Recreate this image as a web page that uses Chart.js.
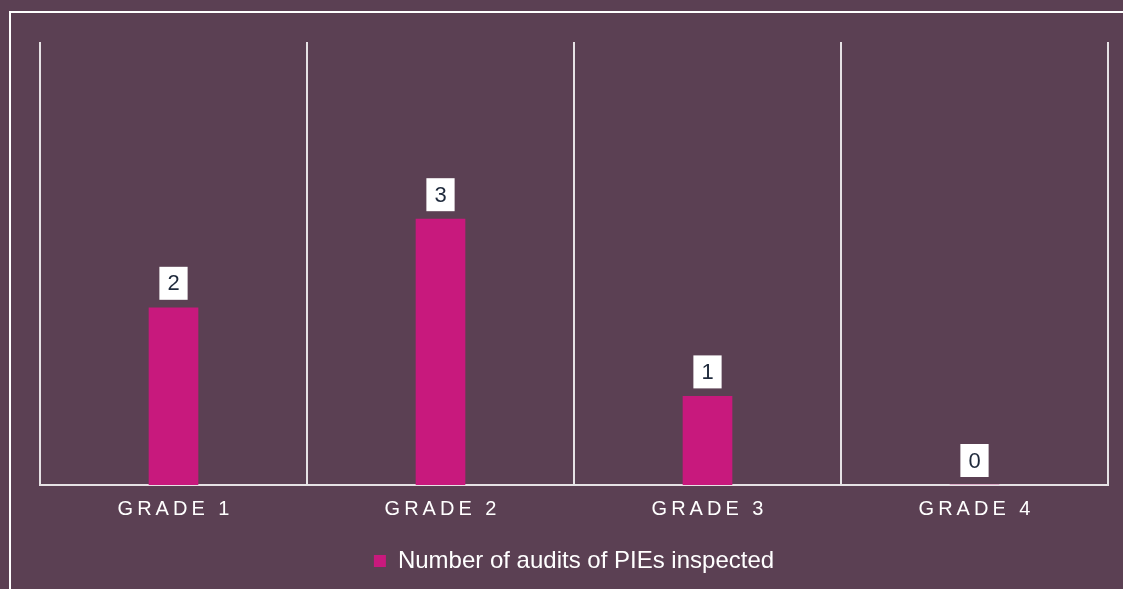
<!DOCTYPE html>
<html>
<head>
<meta charset="utf-8">
<script src="https://cdn.jsdelivr.net/npm/chart.js@4/dist/chart.umd.min.js"></script>
<style>
  html, body { margin: 0; padding: 0; background: #5b4053; overflow: hidden; }
  #wrap { position: relative; width: 1123px; height: 589px; }
  #frame {
    position: absolute; left: 9px; top: 11px; width: 1130px; height: 600px;
    border-top: 2px solid #ffffff; border-left: 2px solid #ffffff;
  }
  canvas { position: absolute; left: 0; top: 0; }
</style>
</head>
<body>
<div id="wrap">
  <div id="frame"></div>
  <canvas id="chart" width="1123" height="589"></canvas>
</div>
<script>
// Data
const grades = ['GRADE 1', 'GRADE 2', 'GRADE 3', 'GRADE 4'];
const auditCounts = [2, 3, 1, 0];
const seriesName = 'Number of audits of PIEs inspected';

const FONT = 'Arial, "Liberation Sans", sans-serif';

// spread letters out a bit like the original axis labels
function spaced(label) {
  return label.split('').join('\u2009');
}

// white boxes with the value above each bar
const valueBoxes = {
  id: 'valueBoxes',
  afterDatasetsDraw(chart) {
    const ctx = chart.ctx;
    const meta = chart.getDatasetMeta(0);
    ctx.save();
    ctx.font = '22px ' + FONT;
    ctx.textAlign = 'center';
    ctx.textBaseline = 'middle';
    meta.data.forEach((bar, i) => {
      const text = String(auditCounts[i]);
      const w = ctx.measureText(text).width + 16;
      const h = 33;
      const bottom = bar.y - 8;
      ctx.fillStyle = '#ffffff';
      ctx.fillRect(bar.x - w / 2, bottom - h, w, h);
      ctx.fillStyle = '#1f2a3c';
      ctx.fillText(text, bar.x, bottom - h / 2 + 1);
    });
    ctx.restore();
  }
};

const ctx = document.getElementById('chart').getContext('2d');
new Chart(ctx, {
  type: 'bar',
  data: {
    labels: grades,
    datasets: [{
      label: seriesName,
      data: auditCounts,
      backgroundColor: '#c8197d',
      borderWidth: 0,
      barThickness: 49
    }]
  },
  options: {
    responsive: false,
    animation: false,
    layout: { padding: { left: 40, right: 15, top: 42, bottom: 6 } },
    plugins: {
      legend: {
        position: 'bottom',
        labels: {
          color: '#ffffff',
          font: { family: FONT, size: 24 },
          boxWidth: 12,
          boxHeight: 12,
          padding: 16
        }
      },
      tooltip: { enabled: false }
    },
    scales: {
      x: {
        grid: {
          offset: true,
          color: 'rgba(255,255,255,0.85)',
          lineWidth: 2,
          drawTicks: false
        },
        border: { color: 'rgba(255,255,255,0.85)', width: 2 },
        ticks: {
          color: '#ffffff',
          font: { family: FONT, size: 20 },
          padding: 12,
          callback: function (v, i) { return spaced(grades[i]); }
        }
      },
      y: {
        display: false,
        min: 0,
        max: 5
      }
    }
  },
  plugins: [valueBoxes]
});
</script>
</body>
</html>
